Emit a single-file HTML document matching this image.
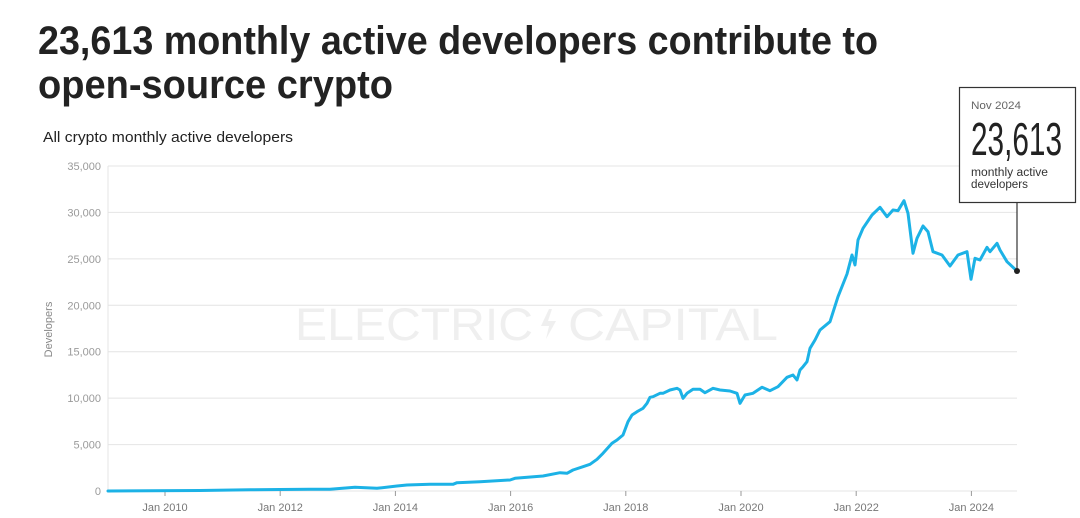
<!DOCTYPE html>
<html>
<head>
<meta charset="utf-8">
<style>
  html,body{margin:0;padding:0;background:#fff;}
  svg{display:block;}
  text{font-family:"Liberation Sans", Arial, sans-serif;}
</style>
</head>
<body>
<svg width="1080" height="518" viewBox="0 0 1080 518" xmlns="http://www.w3.org/2000/svg">
  <rect width="1080" height="518" fill="#fff"/>

  <!-- Title -->
  <text x="38" y="54" font-size="40" font-weight="700" fill="#222" textLength="840" lengthAdjust="spacingAndGlyphs">23,613 monthly active developers contribute to</text>
  <text x="38" y="98" font-size="40" font-weight="700" fill="#222" textLength="355" lengthAdjust="spacingAndGlyphs">open-source crypto</text>

  <!-- Subtitle -->
  <text x="43" y="142" font-size="15" fill="#222" textLength="250" lengthAdjust="spacingAndGlyphs">All crypto monthly active developers</text>

  <!-- Gridlines -->
  <g stroke="#e4e4e4" stroke-width="1">
    <line x1="108" y1="166" x2="1017" y2="166"/>
    <line x1="108" y1="212.4" x2="1017" y2="212.4"/>
    <line x1="108" y1="258.9" x2="1017" y2="258.9"/>
    <line x1="108" y1="305.3" x2="1017" y2="305.3"/>
    <line x1="108" y1="351.7" x2="1017" y2="351.7"/>
    <line x1="108" y1="398.1" x2="1017" y2="398.1"/>
    <line x1="108" y1="444.6" x2="1017" y2="444.6"/>
    <line x1="108" y1="491" x2="1017" y2="491"/>
    <line x1="108" y1="166" x2="108" y2="491"/>
  </g>

  <!-- Watermark -->
  <g fill="#efefef">
    <text x="295" y="340" font-size="45" textLength="238" lengthAdjust="spacingAndGlyphs">ELECTRIC</text>
    <polygon points="549,309 541,326 549,326 546,339 556,321 548,321 552,309"/>
    <text x="568" y="340" font-size="45" textLength="210" lengthAdjust="spacingAndGlyphs">CAPITAL</text>
  </g>

  <!-- Y tick labels -->
  <g font-size="11" fill="#9a9a9a" text-anchor="end">
    <text x="101" y="170">35,000</text>
    <text x="101" y="216.4">30,000</text>
    <text x="101" y="262.9">25,000</text>
    <text x="101" y="309.3">20,000</text>
    <text x="101" y="355.7">15,000</text>
    <text x="101" y="402.1">10,000</text>
    <text x="101" y="448.6">5,000</text>
    <text x="101" y="495">0</text>
  </g>
  <text transform="translate(52,329.5) rotate(-90)" font-size="11" fill="#888" text-anchor="middle">Developers</text>

  <!-- X ticks -->
  <g stroke="#999" stroke-width="1">
    <line x1="165" y1="491" x2="165" y2="496"/>
    <line x1="280.2" y1="491" x2="280.2" y2="496"/>
    <line x1="395.4" y1="491" x2="395.4" y2="496"/>
    <line x1="510.6" y1="491" x2="510.6" y2="496"/>
    <line x1="625.8" y1="491" x2="625.8" y2="496"/>
    <line x1="741" y1="491" x2="741" y2="496"/>
    <line x1="856.2" y1="491" x2="856.2" y2="496"/>
    <line x1="971.4" y1="491" x2="971.4" y2="496"/>
  </g>
  <g font-size="11" fill="#777" text-anchor="middle">
    <text x="165" y="511">Jan 2010</text>
    <text x="280.2" y="511">Jan 2012</text>
    <text x="395.4" y="511">Jan 2014</text>
    <text x="510.6" y="511">Jan 2016</text>
    <text x="625.8" y="511">Jan 2018</text>
    <text x="741" y="511">Jan 2020</text>
    <text x="856.2" y="511">Jan 2022</text>
    <text x="971.4" y="511">Jan 2024</text>
  </g>

  <!-- Data line -->
  <polyline fill="none" stroke="#1cb2e6" stroke-width="3" stroke-linejoin="round" stroke-linecap="round"
    points="108,491 150,490.8 200,490.5 250,489.8 280,489.5 310,489.3 330,489.3 355,487.3 377,488.3 397,486 407,485 430,484.3 453,484.3 457,482.7 480,481.7 510,480 515,478.3 543,476 560,472.7 567,473.3 573,470 583,466.7 590,464.3 597,459.3 603,453.3 612,443.3 617,440 623,435 628,421.7 632,415 637,411.7 640,410 643,408.3 647,403.3 650,397.3 653,396.7 660,393.3 663,393.3 670,390 677,388.3 680,390 683,398.3 687,393.3 693,389.3 700,389.3 705,392.7 713,388.3 720,390 730,391 737,393.3 740,403.3 745,395 753,393.3 762,387.3 770,390.7 778,386.7 787,377.3 793,375 797,380 800,370 803,366.7 807,361.7 810,348.3 815,340 820,330 830,321.7 838,296.7 847,274 852,255 855,265 858,240 863,228.3 872,215 880,207.3 887,216.7 893,210 898,210.7 904,200.7 908,213.3 913,253.3 917,238.3 923,226 928,231.7 933,251.7 942,255 950,266 958,255 967,251.7 971,279.3 975,258.3 980,260 987,247.3 990,251.7 997,243.3 1000,250 1007,261.7 1017,271"/>

  <!-- Callout -->
  <line x1="1017" y1="202.5" x2="1017" y2="271" stroke="#333" stroke-width="1.2"/>
  <circle cx="1017" cy="271" r="3" fill="#222"/>
  <rect x="959.5" y="87.5" width="116" height="115" fill="#fff" stroke="#333" stroke-width="1.2"/>
  <text x="971" y="109" font-size="11" fill="#666" textLength="50" lengthAdjust="spacingAndGlyphs">Nov 2024</text>
  <text x="971" y="155" font-size="46" fill="#222" textLength="91" lengthAdjust="spacingAndGlyphs">23,613</text>
  <text x="971" y="176" font-size="11.5" fill="#333" textLength="77" lengthAdjust="spacingAndGlyphs">monthly active</text>
  <text x="971" y="188" font-size="11.5" fill="#333" textLength="57" lengthAdjust="spacingAndGlyphs">developers</text>
</svg>
</body>
</html>
